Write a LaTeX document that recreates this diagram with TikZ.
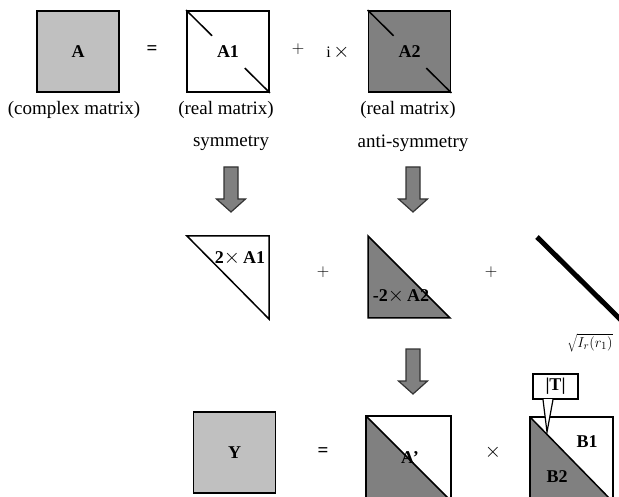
\documentclass[tikz,border=0pt]{standalone}
\usepackage{fontspec}
\setmainfont{Liberation Serif}
\usetikzlibrary{calc}
\definecolor{lightg}{HTML}{C0C0C0}
\definecolor{darkg}{HTML}{808080}
\newcommand{\bigx}{{\fontsize{22}{22}\selectfont$\times$}}
\tikzset{
  matbox/.style={draw=black, line width=1.8pt, minimum width=82pt, minimum height=81pt, inner sep=0pt, font=\bfseries\fontsize{18}{18}\selectfont},
  lbl/.style={inner sep=0pt, font=\fontsize{19}{19}\selectfont},
  op/.style={inner sep=0pt, font=\fontsize{16}{16}\selectfont},
  eqs/.style={inner sep=0pt, font=\bfseries\fontsize{19}{19}\selectfont},
  bl/.style={inner sep=0pt, font=\bfseries\fontsize{18}{18}\selectfont},
  tri/.style={draw=black, line width=1.5pt, line join=miter},
  blockarrow/.pic={
    \filldraw[fill=darkg, draw=black!80, line width=1.2pt, line join=miter]
      (-7,0) -- (7,0) -- (7,32) -- (14.5,32) -- (0,45) -- (-14.5,32) -- (-7,32) -- cycle;
  }
}
\begin{document}
\begin{tikzpicture}[x=1pt,y=-1pt]
\useasboundingbox (0,0) rectangle (619,497);
\clip (0,0) rectangle (619,497);
% top row
\node[matbox, fill=lightg] (A) at (78,51.5) {A};
\node[eqs] (eq1) at (152,50) {=};
\node[matbox, fill=white] (A1) at (228,51.5) {A1};
\draw[line width=1.5pt] (A1.north west) -- ($(A1.north west)!0.31!(A1.south east)$);
\draw[line width=1.5pt] ($(A1.north west)!0.70!(A1.south east)$) -- (A1.south east);
\node[op] (plus1) at (298,49) {$+$};
\node[op] (itimes) at (338,52) {i\,\bigx};
\node[matbox, fill=darkg] (A2) at (409.5,51.5) {A2};
\draw[line width=1.5pt] (A2.north west) -- ($(A2.north west)!0.31!(A2.south east)$);
\draw[line width=1.5pt] ($(A2.north west)!0.70!(A2.south east)$) -- (A2.south east);
\node[lbl] (cm) at (74,110) {(complex matrix)};
\node[lbl] (rm1) at (226,110) {(real matrix)};
\node[lbl] (rm2) at (408,110) {(real matrix)};
\node[lbl] (sym) at (231,143) {symmetry};
\node[lbl] (asym) at (413,143) {anti-symmetry};
% arrows
\pic at (231,167) {blockarrow};
\pic at (413,167) {blockarrow};
\pic at (413,349) {blockarrow};
% middle row
\filldraw[tri, fill=white] (187,236) -- (269,236) -- (269,319) -- cycle;
\node[bl] (t1) at (240,258) {2\bigx\,A1};
\node[op] (plus2) at (323,272) {$+$};
\filldraw[tri, fill=darkg] (368,236) -- (368,318) -- (450,318) -- cycle;
\node[bl] (t2) at (401,296) {-2\bigx\,A2};
\node[op] (plus3) at (491,272) {$+$};
\coordinate (d1) at (537,237);
\coordinate (d2) at (622,321);
\draw[line width=5pt] (d1) -- (d2);
\node[inner sep=0pt, font=\fontsize{15}{15}\selectfont] (sq) at (590,343) {$\sqrt{I_r(r_1)}$};
% bottom row
\node[matbox, fill=lightg] (Y) at (234.5,452.5) {Y};
\node[eqs] (eq2) at (323,452) {=};
\node[matbox, draw=none, minimum width=83pt, minimum height=83pt] (Ap) at (408.5,458.5) {};
\fill[darkg] (Ap.north west) -- (Ap.south east) -- (Ap.south west) -- cycle;
\draw[line width=1.8pt] (Ap.north west) rectangle (Ap.south east);
\draw[line width=1.5pt] (Ap.north west) -- (Ap.south east);
\node[bl] (Aptext) at (410,458) {A’};
\node[op] (times2) at (493,452) {\bigx};
\node[matbox, draw=none, minimum width=81pt, minimum height=83pt] (B) at (571.5,459.5) {};
\fill[darkg] (B.north west) -- (B.south east) -- (B.south west) -- cycle;
\draw[line width=1.8pt] (B.north west) rectangle (B.south east);
\draw[line width=1.5pt] (B.north west) -- (B.south east);
\node[bl] (B1) at (587,442) {B1};
\node[bl] (B2) at (557,477) {B2};
% callout
\node[draw=black, line width=1.2pt, fill=white, minimum width=45pt, minimum height=25pt, inner sep=0pt, font=\bfseries\fontsize{18}{18}\selectfont] (T) at (555.5,386.5) {|T|};
\coordinate (tip) at (547,432);
\filldraw[fill=white, draw=black, line width=1.2pt, line join=miter] ([xshift=-12.5pt]T.south) -- (tip) -- ([xshift=-2.5pt]T.south);
\fill[white] ([xshift=-11.5pt,yshift=1pt]T.south) rectangle ([xshift=-3.5pt,yshift=-1pt]T.south);
\end{tikzpicture}
\end{document}
